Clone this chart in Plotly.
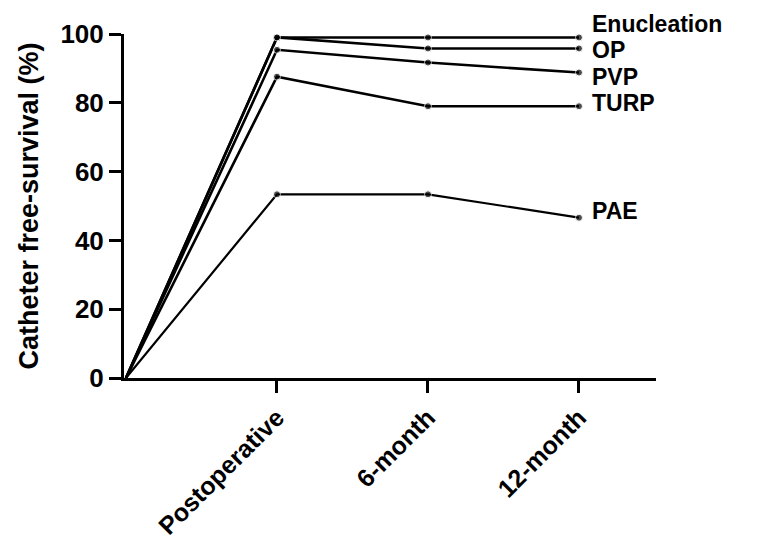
import plotly.graph_objects as go

# ---- data ----
time_index = [0, 1, 2, 3]
tick_labels = ["Postoperative", "6-month", "12-month"]
enucleation = [0, 99.0, 99.0, 99.0]
op = [0, 99.0, 95.8, 95.8]
pvp = [0, 95.4, 91.7, 88.8]
turp = [0, 87.6, 79.0, 79.0]
pae = [0, 53.4, 53.4, 46.6]
series_names = ["Enucleation", "OP", "PVP", "TURP", "PAE"]
series_values = [enucleation, op, pvp, turp, pae]
y_ticks = [0, 20, 40, 60, 80, 100]

# label pixel nudges (styling)
label_yshift = [13, -2, -4, 3, 7]
line_widths = [2.6, 2.6, 2.6, 2.6, 2.2]

FONT = "Liberation Sans, Arial, sans-serif"

fig = go.Figure()
for name, vals, lw in zip(series_names, series_values, line_widths):
    fig.add_trace(go.Scatter(
        x=time_index, y=vals, mode="lines+markers", name=name,
        line=dict(color="black", width=lw),
        marker=dict(color="black", size=[0, 7, 7, 7]),
        cliponaxis=False, showlegend=False,
    ))

for name, vals, ys in zip(series_names, series_values, label_yshift):
    fig.add_annotation(
        x=time_index[-1], y=vals[-1], text=name, showarrow=False,
        xanchor="left", yanchor="middle", xshift=11, yshift=ys,
        font=dict(family=FONT, size=23, color="black", weight="bold"),
    )

fig.update_layout(
    width=775, height=531,
    margin=dict(l=116, r=127, t=26, b=161),
    paper_bgcolor="white", plot_bgcolor="white",
    font=dict(family=FONT, color="black"),
)
fig.update_xaxes(
    range=[-0.013, 3.51], tickvals=time_index[1:], ticktext=tick_labels,
    tickangle=-45, showline=True, linecolor="black", linewidth=3,
    ticks="outside", ticklen=12, tickwidth=2.5, tickcolor="black",
    showgrid=False, zeroline=False, automargin=False,
    tickfont=dict(family=FONT, size=25, color="black", weight="bold"),
)
fig.update_yaxes(
    range=[0, 100], tickvals=y_ticks,
    showline=True, linecolor="black", linewidth=3,
    ticks="outside", ticklen=12, tickwidth=2.5, tickcolor="black",
    showgrid=False, zeroline=False, automargin=False,
    tickfont=dict(family=FONT, size=26, color="black", weight="bold"),
    title=dict(text="Catheter free-survival (%)", standoff=14,
               font=dict(family=FONT, size=27, color="black", weight="bold")),
)

fig.write_html("out.html")
